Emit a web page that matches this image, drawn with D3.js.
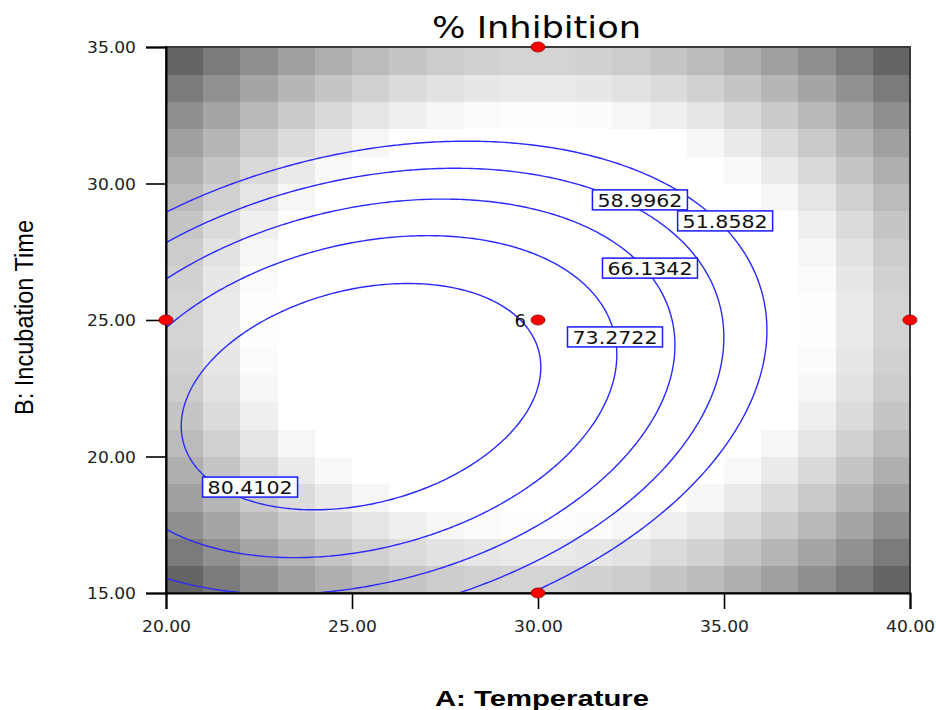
<!DOCTYPE html>
<html>
<head>
<meta charset="utf-8">
<script src="https://cdn.jsdelivr.net/npm/d3@7"></script>
<style>
  html, body { margin: 0; padding: 0; background: #ffffff; }
  svg { display: block; }
</style>
</head>
<body>
<svg id="chart" width="936" height="710"></svg>
<script>
// ---------------- data ----------------
const chartTitle = "% Inhibition";
const xAxisTitle = "A: Temperature";
const yAxisTitle = "B: Incubation Time";
const xDomain = [20, 40];
const yDomain = [15, 35];
const xTicks = [20, 25, 30, 35, 40];
const yTicks = [15, 20, 25, 30, 35];

// quadratic response-surface model in coded units: terms and coefficients
const modelTerms = ["Intercept", "A", "B", "AB", "A^2", "B^2"];
const modelCoefficients = [79.3, -25.0, -15.2, 19.4, -32.0, -43.5];

// contour levels and where their labels sit (data units)
const contourLevels = [51.8582, 58.9962, 66.1342, 73.2722, 80.4102];
const labelTemperature = [35.03, 32.74, 33.01, 32.07, 22.26];
const labelTime = [28.63, 29.40, 26.90, 24.38, 18.88];

// design points
const designTemperature = [30, 20, 30, 40, 30];
const designTime = [35, 25, 25, 25, 15];
const designReplicates = [1, 1, 6, 1, 1];

// background shading (standard-error grey level) for one quadrant of the 20x20 grid,
// row = distance index from centre along time, column = distance index along temperature
const shadeQuadrant = [
  [255,255,255,255,255,255,255,253,234,212],
  [255,255,255,255,255,255,255,251,231,209],
  [255,255,255,255,255,255,255,246,226,204],
  [255,255,255,255,255,255,255,239,219,197],
  [255,255,255,255,255,255,246,229,209,187],
  [255,255,255,255,255,249,234,217,197,175],
  [255,255,255,255,246,234,219,202,182,160],
  [253,251,246,239,229,217,202,185,165,143],
  [234,231,226,219,209,197,182,165,145,123],
  [212,209,204,197,187,175,160,143,123,101]
];

// ---------------- drawing ----------------
(function () {
const svg = d3.select("#chart");
const pL = 166, pR = 910, pT = 47, pB = 593;
const x = d3.scaleLinear().domain(xDomain).range([pL, pR]);
const y = d3.scaleLinear().domain(yDomain).range([pB, pT]);

const defs = svg.append("defs");
defs.append("clipPath").attr("id", "plotClip")
  .append("rect").attr("x", pL).attr("y", pT)
  .attr("width", pR - pL).attr("height", pB - pT);

// shading cells
const cells = [];
for (let c = 0; c < 20; c++) {
  for (let r = 0; r < 20; r++) {
    const i = Math.abs(c - 9.5) - 0.5;
    const j = Math.abs(r - 9.5) - 0.5;
    cells.push({t0: xDomain[0] + c, t1: xDomain[0] + c + 1,
                h0: yDomain[0] + r, h1: yDomain[0] + r + 1,
                g: shadeQuadrant[j][i]});
  }
}
svg.append("g").attr("shape-rendering", "crispEdges")
  .selectAll("rect").data(cells).join("rect")
  .attr("x", d => x(d.t0))
  .attr("y", d => y(d.h1))
  .attr("width", d => x(d.t1) - x(d.t0) + 0.5)
  .attr("height", d => y(d.h0) - y(d.h1) + 0.5)
  .attr("fill", d => d3.rgb(d.g, d.g, d.g));

// response surface grid
function predict(T, t) {
  const A = (T - 30) / 10, B = (t - 25) / 10;
  const b = modelCoefficients;
  return b[0] + b[1] * A + b[2] * B + b[3] * A * B + b[4] * A * A + b[5] * B * B;
}
const step = 0.1;
const T0 = xDomain[0] - 0.5, H0 = yDomain[0] - 0.5;
const nx = Math.round((xDomain[1] - xDomain[0] + 1) / step) + 1;
const ny = Math.round((yDomain[1] - yDomain[0] + 1) / step) + 1;
const grid = new Array(nx * ny);
for (let j = 0; j < ny; j++)
  for (let i = 0; i < nx; i++)
    grid[j * nx + i] = predict(T0 + i * step, H0 + j * step);

const contours = d3.contours().size([nx, ny]).thresholds(contourLevels)(grid);
const proj = d3.geoTransform({
  point: function (px, py) {
    this.stream.point(x(T0 + (px - 0.5) * step), y(H0 + (py - 0.5) * step));
  }
});
const path = d3.geoPath(proj);
svg.append("g").attr("clip-path", "url(#plotClip)")
  .selectAll("path").data(contours).join("path")
  .attr("d", path)
  .attr("fill", "none")
  .attr("stroke", "#2a2aff")
  .attr("stroke-width", 1.4);

// frame
svg.append("rect").attr("x", pL).attr("y", pT)
  .attr("width", pR - pL).attr("height", pB - pT)
  .attr("fill", "none").attr("stroke", "#3a3a3a").attr("stroke-width", 2);

// axes
const xAxis = d3.axisBottom(x).tickValues(xTicks).tickSize(16).tickPadding(8)
  .tickFormat(d3.format(".2f"));
const yAxis = d3.axisLeft(y).tickValues(yTicks).tickSize(20).tickPadding(10)
  .tickFormat(d3.format(".2f"));
const gx = svg.append("g").attr("transform", `translate(0,${pB})`).call(xAxis);
const gy = svg.append("g").attr("transform", `translate(${pL},0)`).call(yAxis);
[gx, gy].forEach(g => {
  g.select(".domain").attr("stroke", "#000").attr("stroke-width", 2);
  g.selectAll(".tick line").attr("stroke", "#000").attr("stroke-width", 1.6);
  g.selectAll(".tick text")
    .attr("font-family", "DejaVu Sans").attr("font-size", 15.5)
    .attr("fill", "#222")
    .attr("textLength", 49).attr("lengthAdjust", "spacingAndGlyphs");
});
gx.selectAll(".tick text").attr("dy", "0.95em");
gy.selectAll(".tick text").attr("dy", "0.36em");

// contour labels
const labels = svg.append("g").selectAll("g")
  .data(contourLevels.map((v, k) => ({v, T: labelTemperature[k], t: labelTime[k]})))
  .join("g")
  .attr("transform", d => `translate(${x(d.T)},${y(d.t)})`);
labels.append("rect")
  .attr("x", -47.5).attr("y", -10).attr("width", 95).attr("height", 20)
  .attr("fill", "#fff").attr("stroke", "#1a1aff").attr("stroke-width", 1.5);
labels.append("text")
  .attr("text-anchor", "middle").attr("y", 6.8)
  .attr("font-family", "DejaVu Sans").attr("font-size", 18).attr("fill", "#111")
  .attr("textLength", 85).attr("lengthAdjust", "spacingAndGlyphs")
  .text(d => d3.format(".4f")(d.v));

// design points
const pts = designTemperature.map((T, k) => ({T, t: designTime[k], n: designReplicates[k]}));
svg.append("g").selectAll("ellipse").data(pts).join("ellipse")
  .attr("cx", d => x(d.T)).attr("cy", d => y(d.t))
  .attr("rx", 7).attr("ry", 5)
  .attr("fill", "#ff0000").attr("stroke", "#8a0000").attr("stroke-width", 0.8);
svg.append("g").selectAll("text").data(pts.filter(d => d.n > 1)).join("text")
  .attr("x", d => x(d.T) - 12).attr("y", d => y(d.t) + 6.5)
  .attr("text-anchor", "end")
  .attr("font-family", "DejaVu Sans").attr("font-size", 18).attr("fill", "#111")
  .text(d => d.n);

// titles
svg.append("text").attr("x", 536.5).attr("y", 38)
  .attr("text-anchor", "middle")
  .attr("font-family", "DejaVu Sans").attr("font-size", 30).attr("fill", "#000")
  .attr("textLength", 209).attr("lengthAdjust", "spacingAndGlyphs")
  .text(chartTitle);
svg.append("text").attr("x", 542).attr("y", 706)
  .attr("text-anchor", "middle")
  .attr("font-family", "Liberation Sans").attr("font-weight", "bold")
  .attr("font-size", 22).attr("fill", "#000")
  .attr("textLength", 214).attr("lengthAdjust", "spacingAndGlyphs")
  .text(xAxisTitle);
svg.append("text")
  .attr("transform", "translate(33,317.5) rotate(-90)")
  .attr("text-anchor", "middle")
  .attr("font-family", "Liberation Sans")
  .attr("font-size", 25).attr("fill", "#000")
  .attr("textLength", 195).attr("lengthAdjust", "spacingAndGlyphs")
  .text(yAxisTitle);
})();
</script>
</body>
</html>
